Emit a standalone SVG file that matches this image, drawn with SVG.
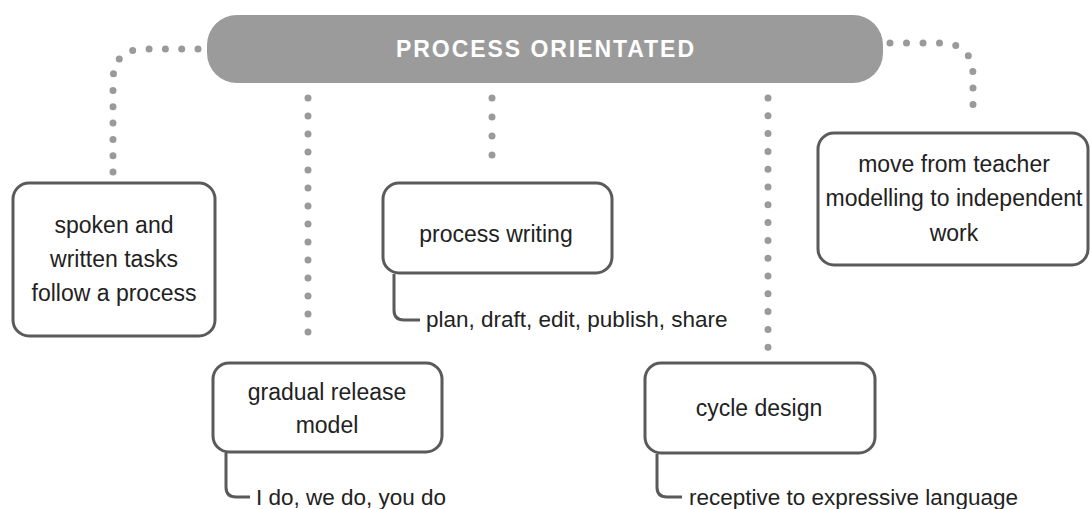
<svg xmlns="http://www.w3.org/2000/svg" width="1090" height="509" viewBox="0 0 1090 509">
<style>
.node rect{fill:#fff;stroke:#5a5a5a;stroke-width:3}
.t{font-family:"Liberation Sans",Arial,sans-serif;font-size:23px;fill:#222;text-anchor:middle}
.s{font-family:"Liberation Sans",Arial,sans-serif;font-size:22.5px;fill:#222}
.dot{fill:none;stroke:#9a9a9a;stroke-width:7;stroke-linecap:round}
.br{fill:none;stroke:#5a5a5a;stroke-width:3}
</style>
<rect width="1090" height="509" fill="#fff"/>
<g id="connectors">
<path class="dot" stroke-dasharray="0 16.3" d="M198 49 L145 49 Q113 49 113 81 L113 180"/>
<path class="dot" stroke-dasharray="0 16.5" d="M890 43 L940 43 Q973 43 973 76 L973 118"/>
<path class="dot" stroke-dasharray="0 18" d="M308 98 L308 350"/>
<path class="dot" stroke-dasharray="0 19" d="M492 98 L492 174"/>
<path class="dot" stroke-dasharray="0 17.8" d="M768 98 L768 348"/>
<path class="br" d="M394 274 L394 310 Q394 320 404 320 L420 320"/>
<path class="br" d="M226 453 L226 487 Q226 497 236 497 L250 497"/>
<path class="br" d="M657 454 L657 487 Q657 497 667 497 L682 497"/>
</g>
<g id="root">
<rect x="207" y="15" width="676" height="68" rx="30" fill="#9b9b9b"/>
<text x="545" y="57" font-family="Liberation Sans,Arial,sans-serif" font-weight="bold" font-size="23" fill="#fff" text-anchor="middle" textLength="298" lengthAdjust="spacing">PROCESS ORIENTATED</text>
</g>
<g id="n-spoken" class="node">
<rect x="13" y="183" width="202" height="153" rx="16"/>
<text class="t" x="114" y="233">spoken and</text>
<text class="t" x="114" y="267">written tasks</text>
<text class="t" x="114" y="301">follow a process</text>
</g>
<g id="n-gradual" class="node">
<rect x="213" y="363" width="229" height="89" rx="16"/>
<text class="t" x="327" y="400">gradual release</text>
<text class="t" x="327" y="433">model</text>
</g>
<g id="n-gradual-sub">
<text class="s" x="256" y="505">I do, we do, you do</text>
</g>
<g id="n-process" class="node">
<rect x="383" y="183" width="229" height="90" rx="16"/>
<text class="t" x="496" y="242">process writing</text>
</g>
<g id="n-process-sub">
<text class="s" x="426" y="327">plan, draft, edit, publish, share</text>
</g>
<g id="n-cycle" class="node">
<rect x="645" y="363" width="230" height="90" rx="16"/>
<text class="t" x="759" y="416">cycle design</text>
</g>
<g id="n-cycle-sub">
<text class="s" x="689" y="505">receptive to expressive language</text>
</g>
<g id="n-move" class="node">
<rect x="818" y="133" width="270" height="132" rx="16"/>
<text class="t" x="954" y="172">move from teacher</text>
<text class="t" x="954" y="206">modelling to independent</text>
<text class="t" x="954" y="241">work</text>
</g>
</svg>
